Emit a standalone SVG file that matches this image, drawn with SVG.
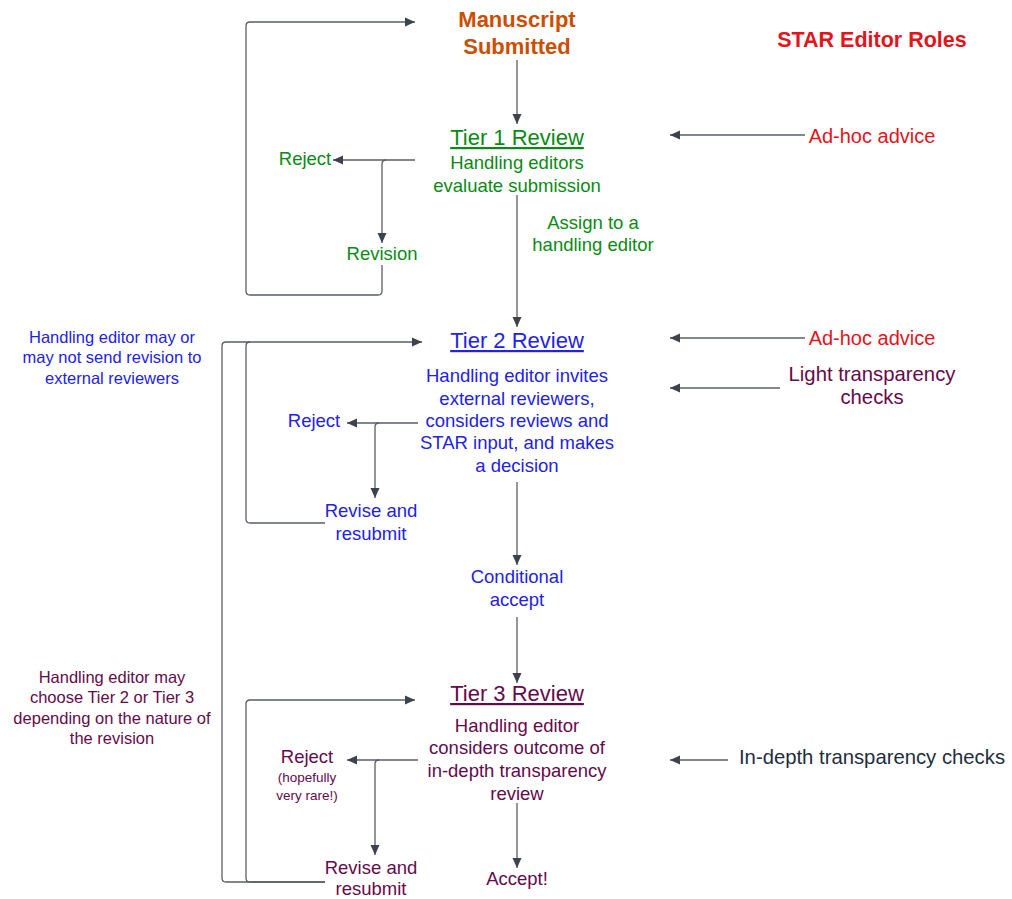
<svg xmlns="http://www.w3.org/2000/svg" width="1012" height="899" viewBox="0 0 1012 899">
<defs>
<marker id="ah" viewBox="0 0 10 10" refX="10" refY="5" markerWidth="10" markerHeight="10" markerUnits="userSpaceOnUse" orient="auto">
<path d="M0,0.5 L10,5 L0,9.5 Z" fill="#3d424c"/>
</marker>
<style>
text{font-family:"Liberation Sans",Arial,sans-serif;text-anchor:middle}
.c{fill:none;stroke:#5a5e66;stroke-width:1.3}
.a{marker-end:url(#ah)}
.h{font-size:22px;text-decoration:underline}
.b{font-size:18.5px}
.n{font-size:16.5px}
.og{fill:#cc4e00}
.g{fill:#0a8a14}
.bl{fill:#2222e6}
.p{fill:#660a4a}
.r{fill:#e3141c}
.d{fill:#1f2d3d}
</style>
</defs>
<rect width="1012" height="899" fill="#ffffff"/>
<g id="connectors">
<path class="c a" d="M517,60 V124"/>
<path class="c a" d="M415,160 H333"/>
<path class="c a" d="M386,160 Q382,160 382,164 V243"/>
<path class="c a" d="M382,265 V291 Q382,295 378,295 H250 Q246,295 246,291 V26 Q246,22 250,22 H415"/>
<path class="c a" d="M517,195 V327"/>
<path class="c a" d="M805,135 H670"/>
<path class="c a" d="M805,338 H670"/>
<path class="c a" d="M780,388 H670"/>
<path class="c a" d="M418,423 H347"/>
<path class="c a" d="M379,423 Q375,423 375,427 V498"/>
<path class="c a" d="M325,523 H250 Q246,523 246,519 V346 Q246,342 250,342 H422"/>
<path class="c" d="M325,882 H226 Q222,882 222,878 V346 Q222,342 226,342 H250"/>
<path class="c a" d="M517,482 V565"/>
<path class="c a" d="M517,617 V683"/>
<path class="c a" d="M418,760 H347"/>
<path class="c a" d="M379,760 Q375,760 375,764 V855"/>
<path class="c a" d="M325,882 H250 Q246,882 246,878 V704 Q246,700 250,700 H415"/>
<path class="c a" d="M517,803 V868"/>
<path class="c a" d="M728,760 H670"/>
</g>
<g id="manuscript-submitted">
<text x="517" y="27" class="og" font-size="22" font-weight="bold">Manuscript</text>
<text x="517" y="54" class="og" font-size="22" font-weight="bold">Submitted</text>
</g>
<g id="star-editor-roles">
<text x="872" y="47" class="r" font-size="21.5" font-weight="bold">STAR Editor Roles</text>
</g>
<g id="tier1">
<text x="517" y="145" class="g h">Tier 1 Review</text>
<text x="517" y="169" class="g b">Handling editors</text>
<text x="517" y="192" class="g b">evaluate submission</text>
</g>
<g id="tier1-reject"><text x="305" y="165" class="g b">Reject</text></g>
<g id="tier1-revision"><text x="382" y="260" class="g b">Revision</text></g>
<g id="assign"><text x="593" y="229" class="g b">Assign to a</text><text x="593" y="251" class="g b">handling editor</text></g>
<g id="adhoc1"><text x="872" y="143" class="r" font-size="20">Ad-hoc advice</text></g>
<g id="tier2">
<text x="517" y="348" class="bl h">Tier 2 Review</text>
<text x="517" y="382" class="bl b">Handling editor invites</text>
<text x="517" y="405" class="bl b">external reviewers,</text>
<text x="517" y="427" class="bl b">considers reviews and</text>
<text x="517" y="449" class="bl b">STAR input, and makes</text>
<text x="517" y="472" class="bl b">a decision</text>
</g>
<g id="adhoc2"><text x="872" y="345" class="r" font-size="20">Ad-hoc advice</text></g>
<g id="light"><text x="872" y="381" class="p" font-size="20.3">Light transparency</text><text x="872" y="404" class="p" font-size="20.3">checks</text></g>
<g id="note1">
<text x="112" y="343" class="bl n">Handling editor may or</text>
<text x="112" y="363" class="bl n">may not send revision to</text>
<text x="112" y="384" class="bl n">external reviewers</text>
</g>
<g id="tier2-reject"><text x="314" y="427" class="bl b">Reject</text></g>
<g id="tier2-revise"><text x="371" y="517" class="bl b">Revise and</text><text x="371" y="540" class="bl b">resubmit</text></g>
<g id="conditional"><text x="517" y="583" class="bl b">Conditional</text><text x="517" y="606" class="bl b">accept</text></g>
<g id="note2">
<text x="112" y="683" class="p n">Handling editor may</text>
<text x="112" y="703" class="p n">choose Tier 2 or Tier 3</text>
<text x="112" y="724" class="p n">depending on the nature of</text>
<text x="112" y="744" class="p n">the revision</text>
</g>
<g id="tier3">
<text x="517" y="701" class="p h">Tier 3 Review</text>
<text x="517" y="732" class="p b">Handling editor</text>
<text x="517" y="754" class="p b">considers outcome of</text>
<text x="517" y="777" class="p b">in-depth transparency</text>
<text x="517" y="800" class="p b">review</text>
</g>
<g id="tier3-reject">
<text x="307" y="763" class="p b">Reject</text>
<text x="307" y="782" class="p" font-size="13.5">(hopefully</text>
<text x="307" y="800" class="p" font-size="13.5">very rare!)</text>
</g>
<g id="tier3-revise"><text x="371" y="874" class="p b">Revise and</text><text x="371" y="895" class="p b">resubmit</text></g>
<g id="accept"><text x="517" y="885" class="p b">Accept!</text></g>
<g id="indepth"><text x="872" y="764" class="d" font-size="20.3">In-depth transparency checks</text></g>
</svg>
